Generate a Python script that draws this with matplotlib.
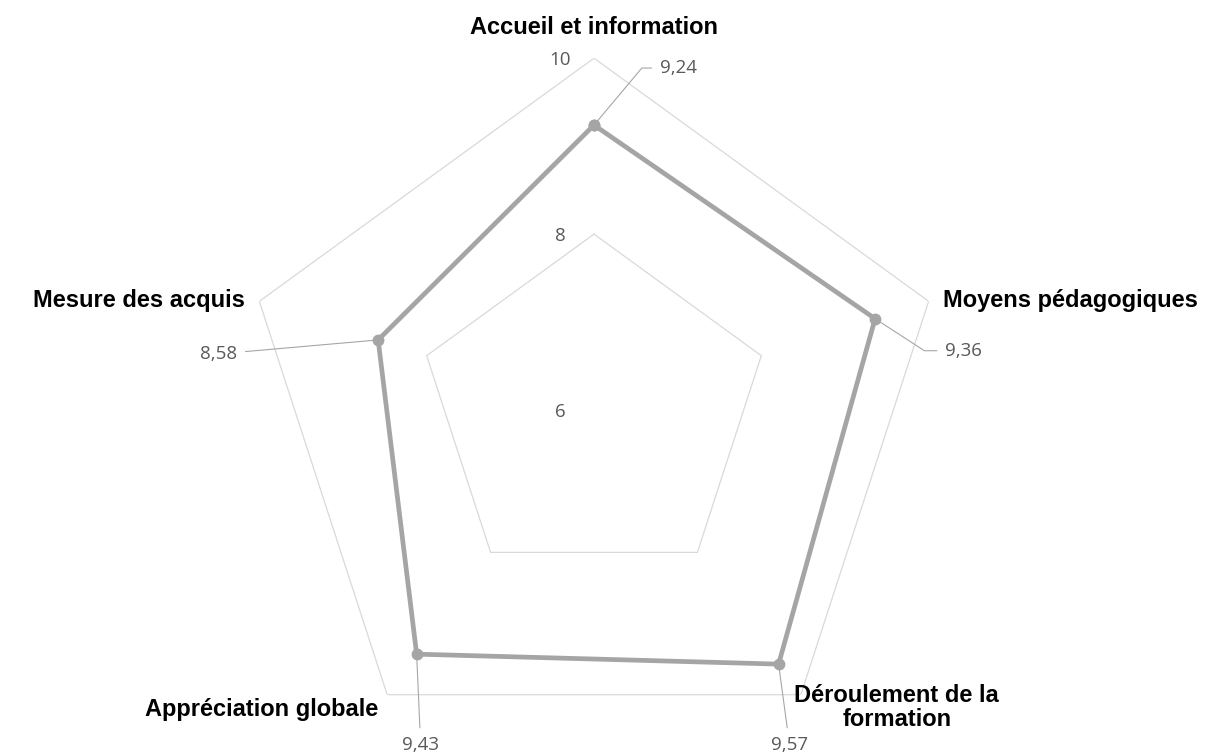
import numpy as np
import matplotlib.pyplot as plt

categories = ['Accueil et information', 'Moyens pédagogiques',
              'Déroulement de la\nformation', 'Appréciation globale',
              'Mesure des acquis']
values = [9.24, 9.36, 9.57, 9.43, 8.58]
value_labels = ['9,24', '9,36', '9,57', '9,43', '8,58']
grid_levels = [6, 8, 10]

n = len(categories)
theta = np.arange(n) * 2 * np.pi / n

fig = plt.figure(figsize=(12.26, 7.56), dpi=100)
ax = fig.add_axes([0.1975, -0.0079, 0.574, 0.931], projection='polar')
ax.set_theta_offset(np.pi / 2)
ax.set_theta_direction(-1)
ax.set_ylim(6, 10)
ax.grid(False)
ax.spines['polar'].set_visible(False)
ax.set_xticks([])
ax.set_yticks([])
ax.patch.set_visible(False)

tc = np.append(theta, theta[0])

# pentagon grid
for lv in grid_levels[1:]:
    ax.plot(tc, [lv] * (n + 1), color='#D9D9D9', lw=0.9, zorder=1)
for lv in grid_levels:
    ax.annotate(str(lv), xy=(0, lv), xytext=(-34, -2), textcoords='offset pixels',
                ha='center', va='center', fontsize=13.5, color='#595959',
                family='Open Sans', annotation_clip=False)

# series
vc = np.append(values, values[0])
ax.plot(tc, vc, color='#A5A5A5', lw=3.4, marker='o', ms=7.5, zorder=3)

# value labels with leader lines
offsets = [(66, 57, 'left', 'angle,angleA=0,angleB=50,rad=0'),
           (70, -32, 'left', 'angle,angleA=0,angleB=-33,rad=0'),
           (11, -81, 'center', 'arc3'),
           (4, -91, 'center', 'arc3'),
           (-141, -14, 'right', 'arc3')]
for t, v, lab, (dx, dy, ha, cs) in zip(theta, values, value_labels, offsets):
    ax.annotate(lab, xy=(t, v), xytext=(dx, dy), textcoords='offset pixels',
                ha=ha, va='center', fontsize=13.5, color='#595959',
                family='Open Sans', annotation_clip=False,
                arrowprops=dict(arrowstyle='-', color='#A6A6A6', lw=0.8,
                                shrinkA=4, shrinkB=3, connectionstyle=cs))

# category labels
cat_offsets = [(0, 31, 'center'), (14, 1, 'left'), (96, -13, 'center'),
               (-9, -15, 'right'), (-14, 1, 'right')]
for t, lab, (dx, dy, ha) in zip(theta, categories, cat_offsets):
    ax.annotate(lab, xy=(t, 10), xytext=(dx, dy), textcoords='offset pixels',
                ha=ha, va='center', fontsize=17, fontweight='bold',
                family='Liberation Sans', color='black', linespacing=1.05,
                annotation_clip=False)

fig.savefig('out.png', dpi=100)
